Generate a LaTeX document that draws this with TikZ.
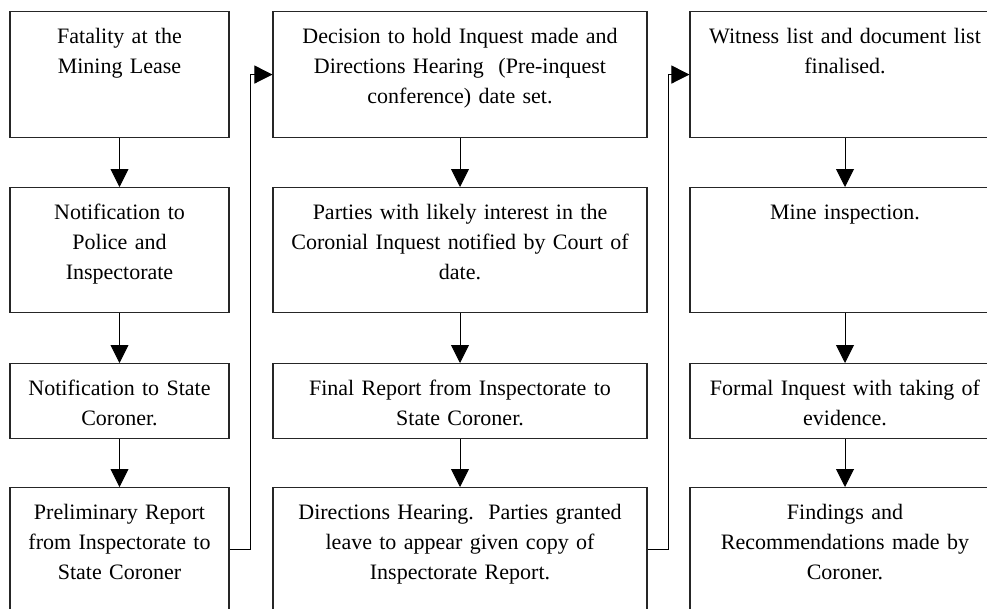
\documentclass[tikz,border=0pt]{standalone}
\usepackage{fontspec}
\setmainfont{Liberation Serif}
\usetikzlibrary{positioning}
\usetikzlibrary{arrows.meta}

\begin{document}
\begin{tikzpicture}
    [x=1pt, y=-1pt,
    stage/.style={draw=black!85, line width=1.1pt, anchor=north, align=center,
        inner xsep=0pt, inner ysep=0pt, text height=32pt,
        font=\fontsize{22}{30}\selectfont},
    colA/.style={text width=219pt},
    colB/.style={text width=374pt},
    colC/.style={text width=310pt},
    flow/.style={-{Triangle[width=18pt,length=18pt]}, line width=0.9pt},
    link/.style={-{Triangle[width=18pt,length=18pt]}, line width=0.9pt}]
    \useasboundingbox (0,0) rectangle (987,608);
    %\draw[step=50,gray,very thin] (0,0) grid (987,608);
    % first column
    \node[stage, colA, text depth=94pt] (F1) at (119.5, 11) {Fatality at the\\Mining Lease};
    \node[stage, colA, text depth=93pt] (F2) at (119.5, 187) {Notification to\\Police and\\Inspectorate};
    \node[stage, colA, text depth=43pt] (F3) at (119.5, 363) {Notification to State\\Coroner.};
    \node[stage, colA, text depth=92pt] (F4) at (119.5, 487) {Preliminary Report\\from Inspectorate to\\State Coroner};
    % second column
    \node[stage, colB, text depth=94pt] (D1) at (460, 11) {Decision to hold Inquest made and\\Directions Hearing\ \ (Pre-inquest\\conference) date set.};
    \node[stage, colB, text depth=93pt] (D2) at (460, 187) {Parties with likely interest in the\\Coronial Inquest notified by Court of\\date.};
    \node[stage, colB, text depth=43pt] (D3) at (460, 363) {Final Report from Inspectorate to\\State Coroner.};
    \node[stage, colB, text depth=92pt] (D4) at (460, 487) {Directions Hearing.\ \ Parties granted\\leave to appear given copy of\\Inspectorate Report.};
    % third column
    \node[stage, colC, text depth=94pt] (W1) at (845, 11) {Witness list and document list\\finalised.};
    \node[stage, colC, text depth=93pt] (W2) at (845, 187) {Mine inspection.};
    \node[stage, colC, text depth=43pt] (W3) at (845, 363) {Formal Inquest with taking of\\evidence.};
    \node[stage, colC, text depth=92pt] (W4) at (845, 487) {Findings and\\Recommendations made by\\Coroner.};
    \draw[flow] (F1) -- (F2);
    \draw[flow] (F2) -- (F3);
    \draw[flow] (F3) -- (F4);
    \draw[flow] (D1) -- (D2);
    \draw[flow] (D2) -- (D3);
    \draw[flow] (D3) -- (D4);
    \draw[flow] (W1) -- (W2);
    \draw[flow] (W2) -- (W3);
    \draw[flow] (W3) -- (W4);
    \draw[link] (F4.east) -- ++(21,0) |- (D1.west);
    \draw[link] (D4.east) -- ++(21,0) |- (W1.west);
\end{tikzpicture}
\end{document}
